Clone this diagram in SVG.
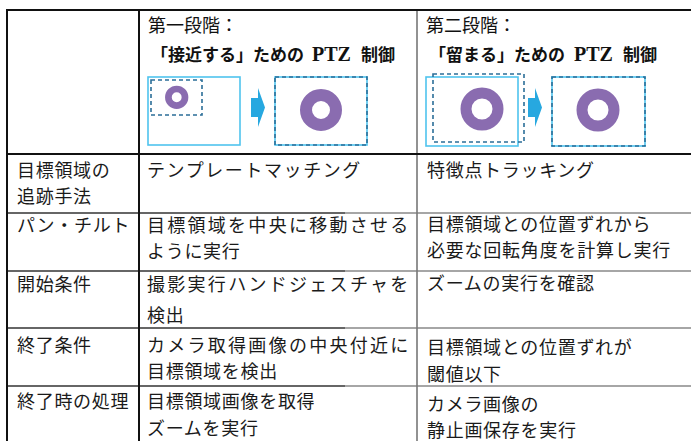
<svg xmlns="http://www.w3.org/2000/svg" width="691" height="441" viewBox="0 0 691 441">
<style>
.t{font-family:"Noto Sans CJK JP","Noto Sans",sans-serif;font-size:18px;fill:#1a1a1a;letter-spacing:0.7px}
.h{font-family:"Noto Sans CJK JP","Noto Sans",sans-serif;font-size:18px;fill:#111}
.hb{font-family:"Noto Sans CJK JP","Noto Sans",sans-serif;font-size:17px;font-weight:bold;fill:#111}
.ser{font-family:"Liberation Serif","Times New Roman",serif;font-size:20px;font-weight:bold;fill:#111}
.solid{fill:none;stroke:#4fc4ee;stroke-width:1.6}
.dash{fill:none;stroke:#2b6e98;stroke-width:1.6;stroke-dasharray:4 3}
.ring{fill:none;stroke:#8a6cb0}
.arrow{fill:#27a8e0}
.bk{stroke:#111;stroke-width:2;fill:none}
.gl{stroke:#333;stroke-width:1.3;fill:none}
.gr{stroke:#888;stroke-width:1.3;fill:none}
</style>
<rect width="691" height="441" fill="#fff"/>
<g id="grid">
<line class="gl" x1="7" y1="213" x2="345" y2="213"/><line class="gr" x1="345" y1="213" x2="691" y2="213"/>
<line class="gl" x1="7" y1="271" x2="345" y2="271"/><line class="gr" x1="345" y1="271" x2="691" y2="271"/>
<line class="gl" x1="7" y1="328" x2="345" y2="328"/><line class="gr" x1="345" y1="328" x2="691" y2="328"/>
<line class="gl" x1="7" y1="386" x2="345" y2="386"/><line class="gr" x1="345" y1="386" x2="691" y2="386"/>
<line x1="417" y1="10" x2="417" y2="441" stroke="#777" stroke-width="1.6"/>
<line class="bk" x1="6" y1="10" x2="691" y2="10"/>
<line class="bk" x1="6" y1="154" x2="691" y2="154"/>
<line class="bk" x1="7" y1="9" x2="7" y2="441"/>
<line class="bk" x1="139" y1="10" x2="139" y2="441"/>
</g>
<g id="stage1-header">
<text class="h" x="148" y="32">第一段階：</text>
<text class="hb" x="151" y="61" textLength="153" lengthAdjust="spacingAndGlyphs">「接近する」ための</text>
<text class="ser" x="312" y="61">PTZ</text>
<text class="hb" x="361" y="61" font-size="18">制御</text>
</g>
<g id="stage1-icon">
<rect class="solid" x="148" y="77" width="92" height="68"/>
<rect class="dash" x="151" y="80" width="51" height="35"/>
<circle class="ring" cx="176.7" cy="97.3" r="8.3" stroke-width="6.7"/>
<path class="arrow" d="M251,98 H258 V88 L265,107.5 L258,127 V117 H251 Z"/>
<rect class="solid" x="275" y="77" width="92" height="68"/>
<rect class="dash" x="275" y="77" width="92" height="68"/>
<circle class="ring" cx="321" cy="110" r="15" stroke-width="12"/>
</g>
<g id="stage2-header">
<text class="h" x="426" y="32">第二段階：</text>
<text class="hb" x="429" y="61" textLength="136" lengthAdjust="spacingAndGlyphs">「留まる」ための</text>
<text class="ser" x="574" y="61">PTZ</text>
<text class="hb" x="623" y="61" font-size="18">制御</text>
</g>
<g id="stage2-icon">
<rect class="solid" x="426" y="77" width="92" height="69"/>
<rect class="dash" x="433" y="74" width="91" height="68"/>
<circle class="ring" cx="482" cy="109" r="16" stroke-width="11"/>
<path class="arrow" d="M528,98 H535 V88 L542,107.5 L535,127 V117 H528 Z"/>
<rect class="solid" x="552" y="77" width="93" height="69"/>
<rect class="dash" x="552" y="77" width="93" height="69"/>
<circle class="ring" cx="598" cy="110" r="16" stroke-width="11"/>
</g>
<g id="col-labels">
<text class="t" x="17" y="177">目標領域の</text>
<text class="t" x="17" y="203">追跡手法</text>
<text class="t" x="17" y="232">パン・チルト</text>
<text class="t" x="17" y="291">開始条件</text>
<text class="t" x="17" y="352">終了条件</text>
<text class="t" x="17" y="408">終了時の処理</text>
</g>
<g id="col-stage1">
<text class="t" x="147" y="177" textLength="214">テンプレートマッチング</text>
<text class="t" x="147" y="232" textLength="262">目標領域を中央に移動させる</text>
<text class="t" x="147" y="258">ように実行</text>
<text class="t" x="147" y="291" textLength="262">撮影実行ハンドジェスチャを</text>
<text class="t" x="147" y="322">検出</text>
<text class="t" x="147" y="352" textLength="262">カメラ取得画像の中央付近に</text>
<text class="t" x="147" y="378">目標領域を検出</text>
<text class="t" x="147" y="408">目標領域画像を取得</text>
<text class="t" x="147" y="435">ズームを実行</text>
</g>
<g id="col-stage2">
<text class="t" x="427" y="177">特徴点トラッキング</text>
<text class="t" x="427" y="231">目標領域との位置ずれから</text>
<text class="t" x="427" y="257" textLength="244">必要な回転角度を計算し実行</text>
<text class="t" x="427" y="290">ズームの実行を確認</text>
<text class="t" x="427" y="354">目標領域との位置ずれが</text>
<text class="t" x="427" y="381">閾値以下</text>
<text class="t" x="427" y="411">カメラ画像の</text>
<text class="t" x="427" y="437">静止画保存を実行</text>
</g>
</svg>
